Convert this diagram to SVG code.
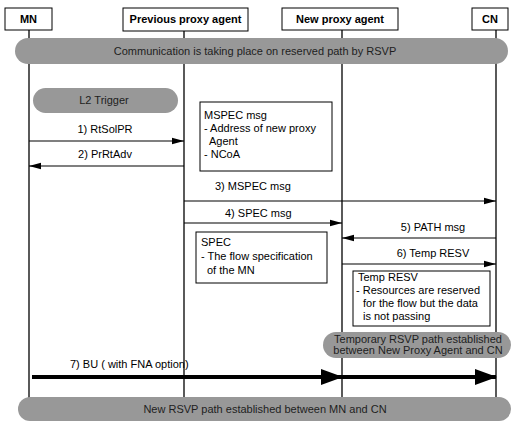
<svg xmlns="http://www.w3.org/2000/svg" width="513" height="422" viewBox="0 0 513 422">
<defs>
<style>
text{font-family:"Liberation Sans",Arial,sans-serif;font-size:11px;fill:#000}
.hdr{font-weight:bold;text-anchor:middle}
.box{fill:#fff;stroke:#000;stroke-width:1}
.life{stroke:#000;stroke-width:1.3}
.pill{fill:#989898}
.pt{fill:#1e1e1e;text-anchor:middle}
.msg{stroke:#000;stroke-width:1.2;fill:none}
.big{stroke:#000;stroke-width:4;fill:none}
.c{text-anchor:middle}
</style>
<marker id="ah" viewBox="0 0 12 8" refX="12" refY="4" markerWidth="12" markerHeight="8" markerUnits="userSpaceOnUse" orient="auto">
<path d="M0,0.8 L12,4 L0,7.2 Z" fill="#000"/>
</marker>
<marker id="bh" viewBox="0 0 22 16" refX="21" refY="8" markerWidth="22" markerHeight="16" markerUnits="userSpaceOnUse" orient="auto">
<path d="M0,0 L22,8 L0,16 Z" fill="#000"/>
</marker>
</defs>
<rect width="513" height="422" fill="#fff"/>

<g id="lifelines">
<line class="life" x1="29" y1="30" x2="29" y2="400"/>
<line class="life" x1="184" y1="31" x2="184" y2="400"/>
<line class="life" x1="342" y1="30" x2="342" y2="400"/>
<line class="life" x1="496" y1="30" x2="496" y2="400"/>
</g>

<g id="node-mn">
<rect class="box" x="5" y="8" width="47" height="22"/>
<text class="hdr" x="28.5" y="23">MN</text>
</g>
<g id="node-prev">
<rect class="box" x="123" y="8" width="125" height="23"/>
<text class="hdr" x="185.5" y="23">Previous proxy agent</text>
</g>
<g id="node-new">
<rect class="box" x="282" y="8" width="116" height="22"/>
<text class="hdr" x="340" y="23">New proxy agent</text>
</g>
<g id="node-cn">
<rect class="box" x="472" y="8" width="36" height="22"/>
<text class="hdr" x="490" y="23">CN</text>
</g>

<g id="pill-top">
<rect class="pill" x="15" y="38" width="493" height="26" rx="13"/>
<text class="pt" x="255" y="55">Communication is taking place on reserved path by RSVP</text>
</g>
<g id="pill-l2">
<rect class="pill" x="33" y="88" width="145" height="25" rx="12.5"/>
<text class="pt" x="104" y="104">L2 Trigger</text>
</g>

<g id="note-mspec">
<rect class="box" x="200" y="102" width="132" height="69"/>
<text x="204" y="119">MSPEC msg</text>
<text x="204" y="132">- Address of new proxy</text>
<text x="209" y="145">Agent</text>
<text x="204" y="158">- NCoA</text>
</g>

<g id="note-spec">
<rect class="box" x="196" y="232" width="131" height="51"/>
<text x="201" y="246">SPEC</text>
<text x="201" y="260">- The flow specification</text>
<text x="207" y="274">of the MN</text>
</g>

<g id="note-temp">
<rect class="box" x="353" y="271" width="137" height="55"/>
<text x="358" y="281">Temp RESV</text>
<text x="356" y="294">- Resources are reserved</text>
<text x="363" y="307">for the flow but the data</text>
<text x="363" y="320">is not passing</text>
</g>

<g id="pill-temp">
<rect class="pill" x="323" y="332" width="188" height="26" rx="13"/>
<text class="pt" x="418" y="343">Temporary RSVP path established</text>
<text class="pt" x="418" y="354">between New Proxy Agent and CN</text>
</g>

<g id="pill-bottom">
<rect class="pill" x="18" y="397" width="493" height="24" rx="12"/>
<text class="pt" x="265" y="413">New RSVP path established between MN and CN</text>
</g>

<g id="connectors">
<line class="msg" x1="29" y1="141" x2="184" y2="141" marker-end="url(#ah)"/>
<text class="c" x="105" y="133">1) RtSolPR</text>
<line class="msg" x1="184" y1="166" x2="29" y2="166" marker-end="url(#ah)"/>
<text class="c" x="105" y="158">2) PrRtAdv</text>
<line class="msg" x1="184" y1="201" x2="496" y2="201" marker-end="url(#ah)"/>
<text x="215" y="190">3) MSPEC msg</text>
<line class="msg" x1="184" y1="223" x2="342" y2="223" marker-end="url(#ah)"/>
<text x="225" y="217">4) SPEC msg</text>
<line class="msg" x1="496" y1="238" x2="342" y2="238" marker-end="url(#ah)"/>
<text class="c" x="433" y="231">5) PATH msg</text>
<line class="msg" x1="342" y1="264" x2="496" y2="264" marker-end="url(#ah)"/>
<text class="c" x="433" y="257">6) Temp RESV</text>
<line class="big" x1="32" y1="377" x2="342" y2="377" marker-end="url(#bh)"/>
<line class="big" x1="342" y1="377" x2="496" y2="377" marker-end="url(#bh)"/>
<text x="70" y="368">7) BU ( with FNA option)</text>
</g>
</svg>
